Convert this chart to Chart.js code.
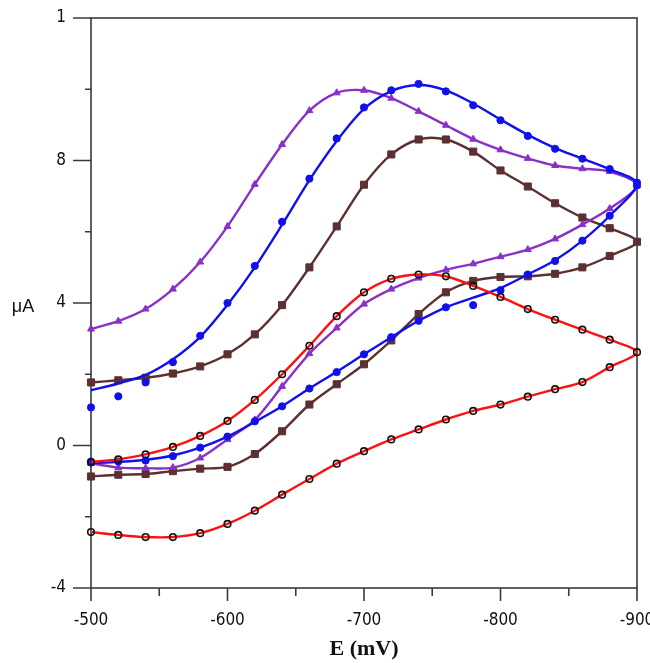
<!DOCTYPE html>
<html>
<head>
<meta charset="utf-8">
<title>Cyclic voltammograms</title>
<script src="https://cdn.jsdelivr.net/npm/chart.js@4.4.1/dist/chart.umd.min.js"></script>
<style>
  html, body { margin: 0; padding: 0; background: #fff; }
  canvas { display: block; }
</style>
</head>
<body>
<canvas id="cv-chart" width="650" height="663"></canvas>
<script>
// potential steps of the sweep (mV)
const potentials = [-500, -520, -540, -560, -580, -600, -620, -640, -660, -680, -700,
                    -720, -740, -760, -780, -800, -820, -840, -860, -880, -900];

// current (uA) on each branch, one value per potential step
const purpleUpper = [3.27, 3.49, 3.83, 4.39, 5.15, 6.15, 7.33, 8.45, 9.4, 9.9, 9.97,
                     9.75, 9.38, 8.99, 8.6, 8.3, 8.06, 7.86, 7.77, 7.69, 7.3];
const purpleLower = [-0.5, -0.62, -0.64, -0.62, -0.35, 0.17, 0.72, 1.66, 2.58, 3.3, 3.97,
                     4.39, 4.7, 4.93, 5.1, 5.3, 5.5, 5.8, 6.2, 6.65, 7.3];

const brownUpper = [1.77, 1.83, 1.9, 2.02, 2.22, 2.56, 3.12, 3.94, 5.0, 6.15, 7.32,
                    8.17, 8.59, 8.59, 8.25, 7.72, 7.27, 6.8, 6.4, 6.1, 5.72];
const brownLower = [-0.87, -0.82, -0.8, -0.72, -0.65, -0.6, -0.24, 0.4, 1.15, 1.72, 2.28,
                    2.95, 3.69, 4.3, 4.62, 4.73, 4.75, 4.82, 5.0, 5.32, 5.72];

// blue: measured points and the smoothed trace drawn through them
const blueUpper = [1.07, 1.38, 1.77, 2.34, 3.08, 4.0, 5.04, 6.28, 7.49, 8.62, 9.49,
                   9.97, 10.15, 9.94, 9.55, 9.13, 8.69, 8.33, 8.05, 7.76, 7.38];
const blueLower = [-0.48, -0.45, -0.42, -0.3, -0.06, 0.25, 0.68, 1.1, 1.6, 2.06, 2.56,
                   3.04, 3.5, 3.88, 3.94, 4.36, 4.8, 5.18, 5.75, 6.45, 7.3];
const blueFitUpper = [1.55, 1.74, 1.98, 2.42, 3.05, 3.95, 5.0, 6.2, 7.45, 8.55, 9.45,
                      9.95, 10.12, 9.97, 9.6, 9.15, 8.72, 8.35, 8.05, 7.75, 7.35];
const blueFitLower = [-0.5, -0.46, -0.4, -0.28, -0.06, 0.25, 0.66, 1.1, 1.6, 2.07, 2.56,
                      3.04, 3.5, 3.88, 4.15, 4.42, 4.8, 5.2, 5.75, 6.45, 7.35];

const redUpper = [-0.46, -0.39, -0.25, -0.04, 0.27, 0.69, 1.28, 2.0, 2.8, 3.63, 4.3,
                  4.68, 4.8, 4.75, 4.48, 4.17, 3.83, 3.53, 3.25, 2.97, 2.62];
const redLower = [-2.43, -2.51, -2.57, -2.57, -2.46, -2.2, -1.83, -1.38, -0.94, -0.51, -0.16,
                  0.17, 0.45, 0.73, 0.97, 1.15, 1.37, 1.58, 1.78, 2.2, 2.62];

// axis ticks
const xTicks = [-500, -600, -700, -800, -900];
const xMinorTicks = [-550, -650, -750, -850];
const yTicks = [-4, 0, 4, 8, 12];
const yTickLabels = ["-4", "0", "4", "8", "1"];
const yMinorTicks = [-2, 2, 6, 10];

const COLORS = {
  purple: "#8b2fc9",
  brown:  "#5c3030",
  blue:   "#1010ee",
  red:    "#ff1010",
  axis:   "#3a3a3a",
  text:   "#111",
};

const TICK_FONT = { family: '"DejaVu Sans Condensed", "DejaVu Sans", sans-serif', size: 17 };

// out along one branch to -900 mV, then back along the other
function loop(out, back) {
  const pts = potentials.map((e, i) => ({ x: e, y: out[i] }));
  for (let i = potentials.length - 2; i >= 0; i--) pts.push({ x: potentials[i], y: back[i] });
  return pts;
}

function points(a, b) {
  return potentials.map((e, i) => ({ x: e, y: a[i] }))
    .concat(potentials.map((e, i) => ({ x: e, y: b[i] })));
}

// frame, tick marks and the two axis titles
const axisDecor = {
  id: "axisDecor",
  beforeDatasetsDraw(chart) {
    const { ctx, chartArea: a, scales: { x, y } } = chart;
    ctx.save();
    ctx.strokeStyle = COLORS.axis;
    ctx.lineWidth = 1.6;
    ctx.strokeRect(a.left, a.top, a.right - a.left, a.bottom - a.top);
    ctx.beginPath();
    yTicks.forEach(v => {
      const p = y.getPixelForValue(v);
      ctx.moveTo(a.left - 18, p); ctx.lineTo(a.left, p);
    });
    yMinorTicks.forEach(v => {
      const p = y.getPixelForValue(v);
      ctx.moveTo(a.left - 6, p); ctx.lineTo(a.left, p);
    });
    xTicks.forEach(v => {
      const p = x.getPixelForValue(v);
      ctx.moveTo(p, a.bottom); ctx.lineTo(p, a.bottom + 13);
    });
    xMinorTicks.forEach(v => {
      const p = x.getPixelForValue(v);
      ctx.moveTo(p, a.bottom); ctx.lineTo(p, a.bottom + 8);
    });
    ctx.stroke();
    ctx.restore();
  },
  afterDraw(chart) {
    const { ctx } = chart;
    ctx.save();
    ctx.fillStyle = COLORS.text;
    ctx.textAlign = "center";
    ctx.textBaseline = "middle";
    ctx.font = '18px "Liberation Sans", sans-serif';
    ctx.fillText("\u03bcA", 23, 307);
    ctx.font = 'bold 22px "Liberation Serif", serif';
    ctx.fillText("E (mV)", 364, 649);
    ctx.restore();
  },
};

const lineStyle = (color, pointStyle, radius) => ({
  borderColor: color,
  backgroundColor: color,
  borderWidth: 2.4,
  pointStyle,
  pointRadius: radius,
  pointBorderWidth: 1,
  pointBackgroundColor: color,
  pointBorderColor: color,
  tension: 0.3,
  showLine: true,
  fill: false,
  clip: 10,
});

new Chart(document.getElementById("cv-chart"), {
  type: "scatter",
  data: {
    datasets: [
      { label: "brown", data: loop(brownLower, brownUpper), order: 4,
        ...lineStyle(COLORS.brown, "rect", 5) },
      { label: "purple", data: loop(purpleLower, purpleUpper), order: 3,
        ...lineStyle(COLORS.purple, "triangle", 4) },
      { label: "blue trace", data: loop(blueFitLower, blueFitUpper), order: 2,
        ...lineStyle(COLORS.blue, "circle", 0) },
      { label: "blue points", data: points(blueUpper, blueLower), order: 2,
        ...lineStyle(COLORS.blue, "circle", 3.6), showLine: false },
      { label: "red", data: loop(redUpper, redLower), order: 1,
        ...lineStyle(COLORS.red, "circle", 3.3),
        pointBackgroundColor: "rgba(255,255,255,0)", pointBorderColor: "#111", pointBorderWidth: 1.6 },
    ],
  },
  options: {
    responsive: false,
    animation: false,
    layout: { padding: { left: 0, top: 18, right: 13, bottom: 0 } },
    plugins: { legend: { display: false }, tooltip: { enabled: false } },
    scales: {
      x: {
        type: "linear",
        reverse: true,
        min: -900,
        max: -500,
        afterFit: s => { s.height = 75; s.paddingLeft = 0; s.paddingRight = 0; },
        afterBuildTicks: s => { s.ticks = xTicks.map(v => ({ value: v })); },
        ticks: { color: COLORS.text, font: TICK_FONT, padding: 22, maxRotation: 0,
                 callback: v => String(v) },
        grid: { display: false, drawTicks: false },
        border: { display: false },
      },
      y: {
        type: "linear",
        min: -4,
        max: 12,
        afterFit: s => { s.width = 91; s.paddingTop = 0; s.paddingBottom = 0; },
        afterBuildTicks: s => { s.ticks = yTicks.map(v => ({ value: v })); },
        ticks: { color: COLORS.text, font: TICK_FONT, padding: 25,
                 callback: (v, i) => yTickLabels[i] },
        grid: { display: false, drawTicks: false },
        border: { display: false },
      },
    },
  },
  plugins: [axisDecor],
});
</script>
</body>
</html>
